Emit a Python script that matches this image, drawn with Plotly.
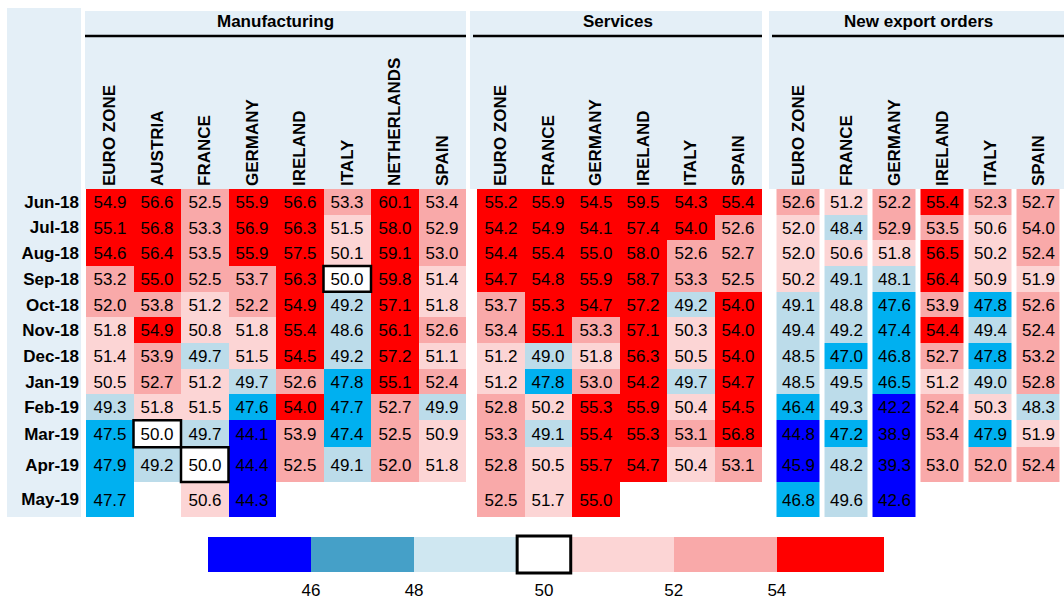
import numpy as np
import plotly.graph_objects as go

# ---------------- data ----------------
MONTHS = ["Jun-18", "Jul-18", "Aug-18", "Sep-18", "Oct-18", "Nov-18",
          "Dec-18", "Jan-19", "Feb-19", "Mar-19", "Apr-19", "May-19"]

MFG_COLS = ["EURO ZONE", "AUSTRIA", "FRANCE", "GERMANY", "IRELAND", "ITALY", "NETHERLANDS", "SPAIN"]
MFG_VALUES = [
    [54.9, 56.6, 52.5, 55.9, 56.6, 53.3, 60.1, 53.4],
    [55.1, 56.8, 53.3, 56.9, 56.3, 51.5, 58.0, 52.9],
    [54.6, 56.4, 53.5, 55.9, 57.5, 50.1, 59.1, 53.0],
    [53.2, 55.0, 52.5, 53.7, 56.3, 50.0, 59.8, 51.4],
    [52.0, 53.8, 51.2, 52.2, 54.9, 49.2, 57.1, 51.8],
    [51.8, 54.9, 50.8, 51.8, 55.4, 48.6, 56.1, 52.6],
    [51.4, 53.9, 49.7, 51.5, 54.5, 49.2, 57.2, 51.1],
    [50.5, 52.7, 51.2, 49.7, 52.6, 47.8, 55.1, 52.4],
    [49.3, 51.8, 51.5, 47.6, 54.0, 47.7, 52.7, 49.9],
    [47.5, 50.0, 49.7, 44.1, 53.9, 47.4, 52.5, 50.9],
    [47.9, 49.2, 50.0, 44.4, 52.5, 49.1, 52.0, 51.8],
    [47.7, None, 50.6, 44.3, None, None, None, None],
]

SRV_COLS = ["EURO ZONE", "FRANCE", "GERMANY", "IRELAND", "ITALY", "SPAIN"]
SRV_VALUES = [
    [55.2, 55.9, 54.5, 59.5, 54.3, 55.4],
    [54.2, 54.9, 54.1, 57.4, 54.0, 52.6],
    [54.4, 55.4, 55.0, 58.0, 52.6, 52.7],
    [54.7, 54.8, 55.9, 58.7, 53.3, 52.5],
    [53.7, 55.3, 54.7, 57.2, 49.2, 54.0],
    [53.4, 55.1, 53.3, 57.1, 50.3, 54.0],
    [51.2, 49.0, 51.8, 56.3, 50.5, 54.0],
    [51.2, 47.8, 53.0, 54.2, 49.7, 54.7],
    [52.8, 50.2, 55.3, 55.9, 50.4, 54.5],
    [53.3, 49.1, 55.4, 55.3, 53.1, 56.8],
    [52.8, 50.5, 55.7, 54.7, 50.4, 53.1],
    [52.5, 51.7, 55.0, None, None, None],
]

EXP_COLS = ["EURO ZONE", "FRANCE", "GERMANY", "IRELAND", "ITALY", "SPAIN"]
# (51.96 / 53.96: shown as 52.0 / 54.0, coloured one band lower in the source)
EXP_VALUES = [
    [52.6, 51.2, 52.2, 55.4, 52.3, 52.7],
    [51.96, 48.4, 52.9, 53.5, 50.6, 53.96],
    [51.96, 50.6, 51.8, 56.5, 50.2, 52.4],
    [50.2, 49.1, 48.1, 56.4, 50.9, 51.9],
    [49.1, 48.8, 47.6, 53.9, 47.8, 52.6],
    [49.4, 49.2, 47.4, 54.4, 49.4, 52.4],
    [48.5, 47.0, 46.8, 52.7, 47.8, 53.2],
    [48.5, 49.5, 46.5, 51.2, 49.0, 52.8],
    [46.4, 49.3, 42.2, 52.4, 50.3, 48.3],
    [44.8, 47.2, 38.9, 53.4, 47.9, 51.9],
    [45.9, 48.2, 39.3, 53.0, 52.0, 52.4],
    [46.8, 49.6, 42.6, None, None, None],
]

GROUP_TITLES = ["Manufacturing", "Services", "New export orders"]
BIN_EDGES = [46, 48, 49.95, 50.05, 52, 54]
LEGEND_TICKS = ["46", "48", "50", "52", "54"]

# ---------------- style ----------------
W, H = 1064, 601
FONT = "Liberation Sans, Arial, sans-serif"
PANEL = "#e4eff7"
CELL_COLORS = ["#0000ff", "#00b0f0", "#bcdcea", "#ffffff", "#fcd5d5", "#f9a9a9", "#ff0000"]
LEGEND_COLORS = ["#0000ff", "#45a0c8", "#cfe7f1", "#ffffff", "#fcd5d5", "#f9a9a9", "#ff0000"]
LEGEND_SEG_WIDTHS = [1, 1, 1, 0.52, 1, 1, 1.04]
ROW_WEIGHTS = [1] * 9 + [1.05, 1.36, 1.36]   # the last rows are drawn taller in the source


def fx(p):
    return p / W


def fy(p):
    return 1 - p / H


def discrete_scale(colors):
    n = len(colors)
    cs = []
    for i, c in enumerate(colors):
        cs.append([i / n, c])
        cs.append([(i + 1) / n, c])
    return cs


groups = [
    dict(cols=MFG_COLS, vals=MFG_VALUES, axis="x", dom=(86, 466), band=(85, 466), line=(85, 466), gap=0),
    dict(cols=SRV_COLS, vals=SRV_VALUES, axis="x2", dom=(477, 762), band=(470, 762), line=(473, 762), gap=0),
    dict(cols=EXP_COLS, vals=EXP_VALUES, axis="x3", dom=(774.5, 1062.5), band=(769, 1064), line=(772, 1064), gap=5),
]

row_edges = np.concatenate([[0], np.cumsum(ROW_WEIGHTS)])
row_centers = (row_edges[:-1] + row_edges[1:]) / 2

fig = go.Figure()
shapes = []
annotations = []

# background panel behind the month labels
shapes.append(dict(type="rect", xref="paper", yref="paper", x0=fx(7), x1=fx(81),
                   y0=fy(517), y1=fy(8), fillcolor=PANEL, line_width=0, layer="below"))

nrows = len(MONTHS)
for gi, g in enumerate(groups):
    arr = np.array([[np.nan if v is None else v for v in row] for row in g["vals"]], dtype=float)
    bins = np.where(np.isnan(arr), np.nan, np.digitize(np.nan_to_num(arr), BIN_EDGES))
    text = [["" if v is None else f"{v:.1f}" for v in row] for row in g["vals"]]
    ncols = len(g["cols"])
    col_edges = np.arange(ncols + 1) - 0.5
    fig.add_trace(go.Heatmap(
        x=col_edges, y=row_edges, z=bins, text=text,
        texttemplate="%{text}", textfont=dict(size=17, color="black", family=FONT),
        colorscale=discrete_scale(CELL_COLORS), zmin=-0.5, zmax=len(CELL_COLORS) - 0.5,
        showscale=False, xgap=g["gap"], xaxis=g["axis"], yaxis="y", hoverinfo="skip"))
    # outline the cells that are exactly 50.0
    for r, row in enumerate(g["vals"]):
        for c, v in enumerate(row):
            if v is not None and abs(v - 50.0) < 0.05:
                shapes.append(dict(type="rect", xref=g["axis"], yref="y",
                                   x0=col_edges[c], x1=col_edges[c + 1],
                                   y0=row_edges[r], y1=row_edges[r + 1],
                                   line=dict(color="black", width=2.5), layer="above"))
    ax_key = "xaxis" if gi == 0 else f"xaxis{gi + 1}"
    fig.layout[ax_key] = dict(
        domain=[fx(g["dom"][0]), fx(g["dom"][1])], anchor="y", side="top",
        range=[col_edges[0], col_edges[-1]], tickvals=list(range(ncols)), ticktext=g["cols"],
        tickangle=-90, tickfont=dict(size=17, family=FONT, color="black", weight="bold"),
        showgrid=False, zeroline=False, showline=False, ticks="", ticklabelstandoff=2)
    # header band, rule and title
    shapes.append(dict(type="rect", xref="paper", yref="paper", x0=fx(g["band"][0]), x1=fx(g["band"][1]),
                       y0=fy(189), y1=fy(11), fillcolor=PANEL, line_width=0, layer="below"))
    shapes.append(dict(type="line", xref="paper", yref="paper", x0=fx(g["line"][0]), x1=fx(g["line"][1]),
                       y0=fy(36), y1=fy(36), line=dict(color="black", width=2.5)))
    annotations.append(dict(text=GROUP_TITLES[gi], xref="paper", yref="paper",
                            x=fx((g["line"][0] + g["line"][1]) / 2), y=fy(22),
                            xanchor="center", yanchor="middle", showarrow=False,
                            font=dict(size=17, family=FONT, color="black", weight="bold")))

fig.layout["yaxis"] = dict(
    domain=[fy(517), fy(189)], anchor="x", range=[row_edges[-1], row_edges[0]],
    tickvals=list(row_centers), ticktext=MONTHS,
    tickfont=dict(size=17, family=FONT, color="black", weight="bold"),
    showgrid=False, zeroline=False, showline=False, ticks="", ticklabelstandoff=6)

# ---------------- legend bar ----------------
edges = np.concatenate([[0], np.cumsum(LEGEND_SEG_WIDTHS)])
fig.add_trace(go.Heatmap(
    x=edges, y=[0], z=[list(range(len(LEGEND_COLORS)))],
    colorscale=discrete_scale(LEGEND_COLORS), zmin=-0.5, zmax=len(LEGEND_COLORS) - 0.5,
    showscale=False, xaxis="x4", yaxis="y2", hoverinfo="skip"))
tick_pos = [edges[1], edges[2], (edges[3] + edges[4]) / 2, edges[5], edges[6]]
fig.layout["xaxis4"] = dict(
    domain=[fx(208), fx(884)], anchor="y2", range=[edges[0], edges[-1]],
    tickvals=tick_pos, ticktext=LEGEND_TICKS,
    tickfont=dict(size=17, family=FONT, color="black"),
    showgrid=False, zeroline=False, showline=False, ticks="", ticklabelstandoff=6)
fig.layout["yaxis2"] = dict(domain=[fy(572), fy(537)], anchor="x4", range=[-0.5, 0.5],
                            visible=False)
shapes.append(dict(type="rect", xref="x4", yref="paper", x0=edges[3], x1=edges[4],
                   y0=fy(573), y1=fy(536),
                   line=dict(color="black", width=3), layer="above"))

fig.update_layout(
    width=W, height=H, margin=dict(l=0, r=0, t=0, b=0),
    paper_bgcolor="white", plot_bgcolor="rgba(0,0,0,0)",
    shapes=shapes, annotations=annotations, showlegend=False,
    font=dict(family=FONT, color="black"))

fig.write_html("out.html", config={"displayModeBar": False},
               post_script="document.body.style.margin='0';document.body.style.overflow='hidden';")
